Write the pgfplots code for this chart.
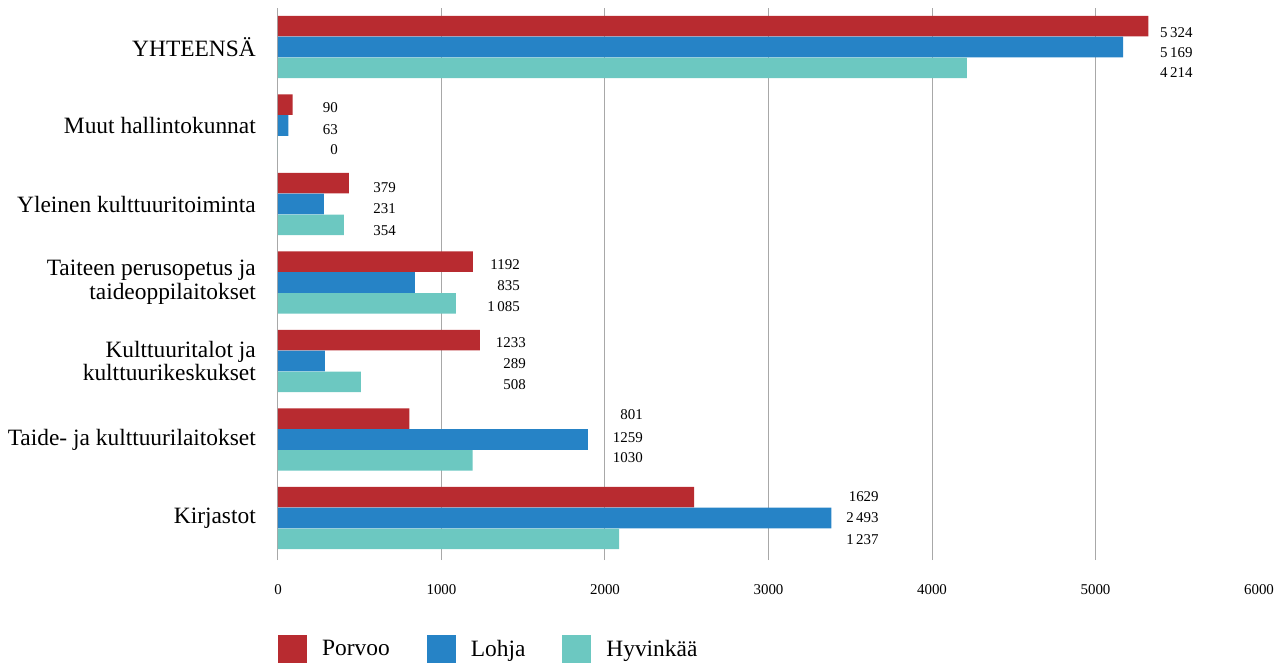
\documentclass[border=0pt]{standalone}
\usepackage{fontspec}
\setmainfont{Liberation Serif}
\usepackage{pgfplots}
\pgfplotsset{compat=1.18}

\definecolor{porvoo}{RGB}{184,43,48}
\definecolor{lohja}{RGB}{38,131,198}
\definecolor{hyvinkaa}{RGB}{108,200,193}
\definecolor{gridgray}{RGB}{168,168,168}

\pgfplotsset{
  squarelegend/.style={legend image code/.code={\fill[##1] (0bp,-14bp) rectangle (29bp,14bp);}},
}

\begin{document}
\begin{tikzpicture}
\useasboundingbox (-278bp,-109bp) rectangle (1000bp,560bp);
\begin{axis}[
    at={(0,0)}, anchor=south west,
    scale only axis,
    width=981bp, height=552bp,
    xmin=0, xmax=6000,
    ymin=-0.535, ymax=6.497,
    axis line style={draw=none},
    major tick length=0pt,
    xtick={0,1000,...,6000},
    /pgf/number format/1000 sep={},
    /pgf/number format/assume math mode=true,
    xticklabel style={font=\fontsize{15}{17}\selectfont, inner sep=0pt, yshift=-24bp},
    extra x ticks={0,1000,2000,3000,4000,5000},
    extra x tick labels={},
    extra x tick style={grid=major, major grid style={draw=gridgray, line width=1bp}},
    ytick={0,1,2,3,4,5,6},
    yticklabels={Kirjastot, Taide- ja kulttuurilaitokset, {Kulttuuritalot ja\\kulttuurikeskukset}, {Taiteen perusopetus ja\\taideoppilaitokset}, Yleinen kulttuuritoiminta, Muut hallintokunnat, YHTEENSÄ},
    yticklabel style={font=\fontsize{23.5}{24}\selectfont, align=right, inner sep=0pt, xshift=-22bp},
    bar width=0.262,
    legend columns=3,
    legend style={at={(axis description cs:0,-0.161)}, anchor=west, draw=none, fill=none,
      inner sep=0pt, font=\fontsize{23.5}{26}\selectfont,
      /tikz/every odd column/.append style={column sep=13bp},
      /tikz/every even column/.append style={column sep=35bp}},
    legend cell align=left,
]
\addplot[xbar, bar shift=0.266, fill=porvoo, draw=none, squarelegend] coordinates {
  (2545,0) (804,1) (1235,2) (1192,3) (434,4) (90,5) (5324,6)};
\addlegendentry{Porvoo}
\addplot[xbar, bar shift=0, fill=lohja, draw=none, squarelegend] coordinates {
  (3385,0) (1896,1) (287,2) (837,3) (281,4) (63,5) (5169,6)};
\addlegendentry{Lohja}
\addplot[xbar, bar shift=-0.266, fill=hyvinkaa, draw=none, squarelegend] coordinates {
  (2087,0) (1190,1) (507,2) (1088,3) (403,4) (0,5) (4214,6)};
\addlegendentry{Hyvinkää}
% value labels as printed in the source
\addplot[draw=none, mark=none, forget plot, nodes near coords, point meta=explicit symbolic,
  every node near coord/.append style={anchor=east, inner sep=0pt, font=\fontsize{15}{17}\selectfont}]
  table[col sep=comma, x=x, y=y, meta=lab] {
x,y,lab
5595,6.178,5\,324
5595,5.924,5\,169
5595,5.669,4\,214
367,5.223,90
367,4.943,63
367,4.688,0
722,4.204,379
722,3.936,231
722,3.656,354
1480,3.223,1192
1480,2.955,835
1480,2.688,1\,085
1517,2.229,1233
1517,1.962,289
1517,1.694,508
2232,1.312,801
2232,1.019,1259
2232,0.764,1030
3675,0.268,1629
3675,0.000,2\,493
3675,-0.280,1\,237
};
\end{axis}
\end{tikzpicture}
\end{document}
